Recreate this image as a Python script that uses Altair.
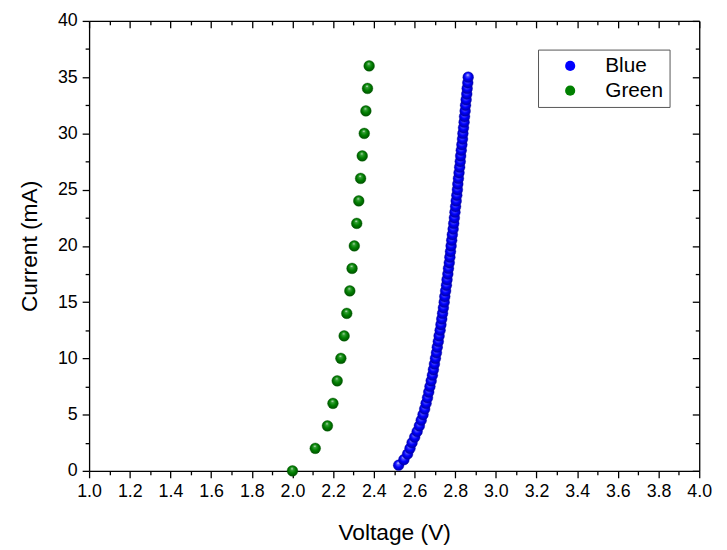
import altair as alt
import pandas as pd

# ---------------- data ----------------
green_current = [0, 2, 4, 6, 8, 10, 12, 14, 16, 18, 20, 22, 24, 26, 28, 30, 32, 34, 36]
green_voltage = [2.000, 2.112, 2.172, 2.199, 2.220, 2.238, 2.254, 2.267, 2.282, 2.293,
                 2.304, 2.316, 2.326, 2.335, 2.343, 2.353, 2.361, 2.369, 2.377]

blue_current = [0.5, 1.0, 1.5, 2.0, 2.5, 3.0, 3.5, 4.0, 4.5, 5.0,
                5.5, 6.0, 6.5, 7.0, 7.5, 8.0, 8.5, 9.0, 9.5, 10.0,
                10.5, 11.0, 11.5, 12.0, 12.5, 13.0, 13.5, 14.0, 14.5, 15.0,
                15.5, 16.0, 16.5, 17.0, 17.5, 18.0, 18.5, 19.0, 19.5, 20.0,
                20.5, 21.0, 21.5, 22.0, 22.5, 23.0, 23.5, 24.0, 24.5, 25.0,
                25.5, 26.0, 26.5, 27.0, 27.5, 28.0, 28.5, 29.0, 29.5, 30.0,
                30.5, 31.0, 31.5, 32.0, 32.5, 33.0, 33.5, 34.0, 34.5, 35.0]
blue_voltage = [2.522, 2.548, 2.566, 2.578, 2.588, 2.601, 2.613, 2.624, 2.633, 2.642,
                2.650, 2.657, 2.664, 2.670, 2.676, 2.682, 2.688, 2.693, 2.698, 2.703,
                2.708, 2.712, 2.717, 2.721, 2.726, 2.730, 2.734, 2.738, 2.742, 2.746,
                2.749, 2.753, 2.757, 2.760, 2.764, 2.767, 2.771, 2.774, 2.777, 2.780,
                2.783, 2.786, 2.790, 2.793, 2.796, 2.799, 2.802, 2.805, 2.808, 2.811,
                2.813, 2.816, 2.819, 2.822, 2.825, 2.827, 2.830, 2.833, 2.836, 2.838,
                2.841, 2.844, 2.846, 2.849, 2.851, 2.854, 2.857, 2.859, 2.862, 2.864]

series_names = ["Blue", "Green"]
series_colors = ["#0000ff", "#008000"]

x_major = [1.0, 1.2, 1.4, 1.6, 1.8, 2.0, 2.2, 2.4, 2.6, 2.8, 3.0, 3.2, 3.4, 3.6, 3.8, 4.0]
x_minor = [1.1, 1.3, 1.5, 1.7, 1.9, 2.1, 2.3, 2.5, 2.7, 2.9, 3.1, 3.3, 3.5, 3.7, 3.9]
y_major = [0, 5, 10, 15, 20, 25, 30, 35, 40]
y_minor = [2.5, 7.5, 12.5, 17.5, 22.5, 27.5, 32.5, 37.5]

# ---------------- table ----------------
df = pd.concat([
    pd.DataFrame({"series": "Blue", "V": blue_voltage, "I": blue_current}),
    pd.DataFrame({"series": "Green", "V": green_voltage, "I": green_current}),
], ignore_index=True)

W, H = 617, 455
FONT = "Liberation Sans"
PT = 118

xs = alt.Scale(domain=[1.0, 4.0], nice=False, zero=False)
ys = alt.Scale(domain=[0, 40], nice=False, zero=False)

common = dict(grid=False, domainColor="black", tickColor="black", domainWidth=1.3,
              tickWidth=1.3, labelFlush=False, labelOverlap=False)

x_main = alt.Axis(orient="bottom", values=x_major, format=".1f", tickSize=7, labelPadding=5,
                  labelFont=FONT, labelFontSize=18, labelColor="black",
                  title="Voltage (V)", titleFont=FONT, titleFontSize=23, titleFontWeight="normal",
                  titleColor="black", titlePadding=21, **common)
y_main = alt.Axis(orient="left", values=y_major, format="d", tickSize=7, labelPadding=5,
                  labelFont=FONT, labelFontSize=18, labelColor="black",
                  title="Current (mA)", titleFont=FONT, titleFontSize=23, titleFontWeight="normal",
                  titleColor="black", titlePadding=16, **common)
x_min_ax = alt.Axis(orient="bottom", values=x_minor, tickSize=4, labels=False, domain=False,
                    title=None, **common)
y_min_ax = alt.Axis(orient="left", values=y_minor, tickSize=4, labels=False, domain=False,
                    title=None, **common)
x_top = alt.Axis(orient="bottom", offset=-H, values=x_major, tickSize=7, labels=False,
                 title=None, **common)
y_right = alt.Axis(orient="left", offset=-W, values=y_major, tickSize=7, labels=False,
                   title=None, **common)
x_top_min = alt.Axis(orient="bottom", offset=-H, values=x_minor, tickSize=4, labels=False,
                     domain=False, title=None, **common)
y_right_min = alt.Axis(orient="left", offset=-W, values=y_minor, tickSize=4, labels=False,
                       domain=False, title=None, **common)


def sphere(light, mid, dark):
    return alt.RadialGradient(
        gradient="radial",
        stops=[alt.GradientStop(color="#ffffff", offset=0.0),
               alt.GradientStop(color=light, offset=0.2),
               alt.GradientStop(color=mid, offset=0.55),
               alt.GradientStop(color=dark, offset=1.0)],
        x1=0.45, y1=0.27, r1=0.0, x2=0.5, y2=0.5, r2=0.55)


base = alt.Chart(df)


def axis_layer(xa, ya):
    return base.mark_point(opacity=0, filled=True).encode(
        x=alt.X("V:Q", scale=xs, axis=xa),
        y=alt.Y("I:Q", scale=ys, axis=ya),
    )


blue = base.transform_filter(alt.datum.series == "Blue").mark_point(
    filled=True, size=PT, opacity=1,
    fill=sphere("#5a5aff", "#0000ff", "#00009a"), stroke="#0000b0", strokeWidth=0.4,
).encode(
    x=alt.X("V:Q", scale=xs, axis=x_main),
    y=alt.Y("I:Q", scale=ys, axis=y_main),
)

green = base.transform_filter(alt.datum.series == "Green").mark_point(
    filled=True, size=PT, opacity=1,
    fill=sphere("#3aa03a", "#008000", "#004a00"), stroke="#005a00", strokeWidth=0.4,
).encode(
    x=alt.X("V:Q", scale=xs, axis=None),
    y=alt.Y("I:Q", scale=ys, axis=None),
)

legend_layer = base.mark_point(opacity=0, filled=True, size=PT).encode(
    x=alt.X("V:Q", scale=xs, axis=None),
    y=alt.Y("I:Q", scale=ys, axis=None),
    color=alt.Color("series:N",
                    scale=alt.Scale(domain=series_names, range=series_colors),
                    legend=alt.Legend(title=None, orient="none", legendX=454, legendY=29,
                                      symbolType="circle", symbolSize=105, symbolOpacity=1,
                                      symbolStrokeWidth=0, symbolOffset=16,
                                      labelFont=FONT, labelFontSize=21, labelColor="black",
                                      labelOffset=25, rowPadding=3, padding=6,
                                      strokeColor="#555555", fillColor="white")),
)

chart = alt.layer(
    axis_layer(x_min_ax, y_min_ax),
    axis_layer(x_top, y_right),
    axis_layer(x_top_min, y_right_min),
    green,
    blue,
    legend_layer,
).resolve_axis(x="independent", y="independent").properties(
    width=W, height=H,
    autosize=alt.AutoSizeParams(type="none"),
    padding={"left": 82, "top": 10, "right": 20, "bottom": 80},
).configure_view(stroke=None).configure(background="white")

chart.save("out.html", embed_options={"renderer": "svg", "actions": False})
